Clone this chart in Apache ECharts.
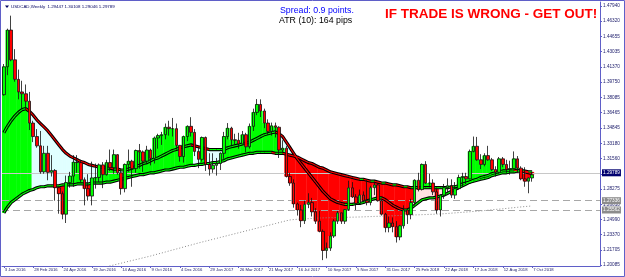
<!DOCTYPE html>
<html><head><meta charset="utf-8">
<script src="https://cdn.jsdelivr.net/npm/echarts@6/dist/echarts.min.js"></script>
<style>html,body{margin:0;padding:0;background:#fff}#c{width:625px;height:277px}</style>
</head><body><div id="c"></div>
<script>
// ---- data (weekly USDCAD) ----
const opens = [1.3840,1.4140,1.4535,1.4215,1.4005,1.3870,1.3850,1.3770,1.3535,1.3390,
1.3290,1.3010,1.3210,1.3005,1.3025,1.2840,1.2775,1.2555,1.2895,1.2965,
1.3115,1.3110,1.2925,1.2830,1.2750,1.2945,1.2950,1.3085,1.2980,1.3110,
1.3055,1.3195,1.3000,1.2830,1.3090,1.3125,1.3045,1.3240,1.3225,1.3125,
1.3245,1.3155,1.3375,1.3400,1.3410,1.3490,1.3475,1.3475,1.3295,1.3175,
1.3390,1.3500,1.3435,1.3230,1.3145,1.3380,1.3090,1.3040,1.3080,1.3100,
1.3210,1.3390,1.3480,1.3355,1.3350,1.3310,1.3410,1.3280,1.3500,1.3650,
1.3735,1.3665,1.3535,1.3445,1.3505,1.3490,1.3245,1.3265,1.2960,1.2890,
1.2665,1.2600,1.2485,1.2660,1.2680,1.2580,1.2480,1.2370,1.2165,1.2190,
1.2320,1.2480,1.2570,1.2480,1.2605,1.2838,1.2740,1.2670,1.2760,1.2700,
1.2680,1.2840,1.2870,1.2700,1.2555,1.2410,1.2460,1.2420,1.2310,1.2430,
1.2600,1.2550,1.2680,1.2920,1.2820,1.3090,1.2890,1.2890,1.2795,1.2600,
1.2760,1.2840,1.2860,1.2760,1.2830,1.2950,1.2960,1.2935,1.3230,1.3285,
1.3140,1.3090,1.3185,1.3140,1.3035,1.3005,1.3150,1.3090,1.3035,1.3045,
1.3150,1.3050,1.2935,1.2910,1.29447];
const closes = [1.4140,1.4535,1.4215,1.4005,1.3870,1.3850,1.3770,1.3535,1.3390,1.3290,
1.3010,1.3210,1.3005,1.3025,1.2840,1.2775,1.2555,1.2895,1.2965,1.3115,
1.3110,1.2925,1.2830,1.2750,1.2945,1.2950,1.3085,1.2980,1.3110,1.3055,
1.3195,1.3000,1.2830,1.3090,1.3125,1.3045,1.3240,1.3225,1.3125,1.3245,
1.3155,1.3375,1.3400,1.3410,1.3490,1.3475,1.3475,1.3295,1.3175,1.3390,
1.3500,1.3435,1.3230,1.3145,1.3380,1.3090,1.3040,1.3080,1.3100,1.3210,
1.3390,1.3480,1.3355,1.3350,1.3310,1.3410,1.3280,1.3500,1.3650,1.3735,
1.3665,1.3535,1.3445,1.3505,1.3490,1.3245,1.3265,1.2960,1.2890,1.2665,
1.2600,1.2485,1.2660,1.2680,1.2580,1.2480,1.2370,1.2165,1.2190,1.2320,
1.2480,1.2570,1.2480,1.2605,1.2838,1.2740,1.2670,1.2760,1.2700,1.2680,
1.2840,1.2870,1.2700,1.2555,1.2410,1.2460,1.2420,1.2310,1.2430,1.2600,
1.2550,1.2680,1.2920,1.2820,1.3090,1.2890,1.2890,1.2795,1.2600,1.2760,
1.2840,1.2860,1.2760,1.2830,1.2950,1.2960,1.2935,1.3230,1.3285,1.3140,
1.3090,1.3185,1.3140,1.3035,1.3005,1.3150,1.3090,1.3035,1.3045,1.3150,
1.3050,1.2935,1.2910,1.2945,1.29789];
const highs = [1.4170,1.4550,1.4690,1.4330,1.4110,1.3990,1.3950,1.3870,1.3560,1.3470,
1.3450,1.3290,1.3290,1.3190,1.3040,1.2850,1.2800,1.2970,1.3010,1.3190,
1.3190,1.3140,1.2950,1.2985,1.3120,1.3100,1.3100,1.3115,1.3140,1.3250,
1.3250,1.3200,1.3040,1.3100,1.3250,1.3140,1.3250,1.3310,1.3240,1.3290,
1.3260,1.3390,1.3420,1.3440,1.3530,1.3560,1.3590,1.3530,1.3300,1.3400,
1.3510,1.3598,1.3470,1.3280,1.3390,1.3390,1.3210,1.3210,1.3160,1.3220,
1.3440,1.3535,1.3495,1.3420,1.3430,1.3450,1.3430,1.3530,1.3690,1.3793,
1.3790,1.3690,1.3575,1.3540,1.3540,1.3500,1.3350,1.3290,1.3000,1.2930,
1.2680,1.2655,1.2700,1.2780,1.2730,1.2620,1.2590,1.2390,1.2250,1.2360,
1.2500,1.2590,1.2570,1.2610,1.2915,1.2900,1.2770,1.2820,1.2800,1.2920,
1.2860,1.2900,1.2890,1.2710,1.2570,1.2530,1.2520,1.2480,1.2440,1.2650,
1.2620,1.2720,1.2930,1.3000,1.3100,1.3125,1.2990,1.2930,1.2840,1.2770,
1.2880,1.2940,1.2930,1.2900,1.2980,1.3000,1.3000,1.3250,1.3390,1.3386,
1.3200,1.3210,1.3290,1.3160,1.3070,1.3170,1.3170,1.3140,1.3130,1.3230,
1.3180,1.3070,1.3060,1.2950,1.30108];
const lows = [1.3830,1.4050,1.4200,1.3980,1.3790,1.3695,1.3680,1.3460,1.3330,1.3270,
1.2990,1.2990,1.2920,1.2960,1.2700,1.2560,1.2500,1.2460,1.2840,1.2850,
1.3000,1.2900,1.2650,1.2700,1.2650,1.2830,1.2900,1.2835,1.2970,1.3020,
1.2990,1.2980,1.2765,1.2790,1.3010,1.2850,1.3000,1.3045,1.3010,1.3100,
1.3080,1.3100,1.3260,1.3300,1.3360,1.3400,1.3390,1.3250,1.3120,1.3110,
1.3340,1.3390,1.3180,1.3050,1.3120,1.3020,1.2970,1.3000,1.2970,1.3030,
1.3150,1.3360,1.3290,1.3300,1.3260,1.3310,1.3220,1.3260,1.3450,1.3620,
1.3600,1.3480,1.3410,1.3400,1.3380,1.3160,1.3220,1.2950,1.2860,1.2625,
1.2540,1.2415,1.2450,1.2620,1.2530,1.2450,1.2360,1.2061,1.2080,1.2160,
1.2300,1.2450,1.2450,1.2450,1.2590,1.2730,1.2600,1.2660,1.2690,1.2650,
1.2650,1.2760,1.2690,1.2540,1.2360,1.2360,1.2360,1.2250,1.2275,1.2400,
1.2450,1.2500,1.2650,1.2800,1.2810,1.2880,1.2860,1.2760,1.2560,1.2530,
1.2720,1.2790,1.2730,1.2720,1.2820,1.2850,1.2880,1.2930,1.3220,1.3130,
1.3040,1.3070,1.3130,1.3020,1.2960,1.2990,1.3060,1.3000,1.2980,1.3040,
1.3000,1.2920,1.2850,1.2780,1.29046];
const fastMA = [1.343,1.350,1.356,1.361,1.365,1.368,1.369,1.366,1.362,1.357,
1.353,1.349,1.345,1.340,1.335,1.330,1.325,1.321,1.318,1.316,
1.314,1.312,1.311,1.309,1.308,1.307,1.306,1.306,1.305,1.305,
1.304,1.304,1.303,1.303,1.304,1.305,1.307,1.308,1.310,1.311,
1.313,1.315,1.316,1.318,1.320,1.322,1.324,1.325,1.327,1.328,
1.329,1.330,1.329,1.328,1.327,1.326,1.325,1.325,1.325,1.325,
1.325,1.327,1.328,1.329,1.330,1.331,1.332,1.333,1.335,1.337,
1.339,1.341,1.342,1.343,1.344,1.342,1.339,1.333,1.327,1.321,
1.315,1.310,1.305,1.300,1.295,1.290,1.285,1.280,1.276,1.272,
1.270,1.268,1.267,1.266,1.266,1.266,1.267,1.267,1.268,1.270,
1.271,1.272,1.273,1.273,1.271,1.268,1.265,1.263,1.261,1.260,
1.260,1.262,1.265,1.268,1.271,1.272,1.273,1.273,1.274,1.275,
1.276,1.278,1.280,1.282,1.284,1.286,1.288,1.290,1.292,1.293,
1.295,1.296,1.297,1.299,1.300,1.301,1.302,1.302,1.303,1.303,
1.302,1.302,1.301,1.300,1.299];
const slowMA = [1.257,1.263,1.268,1.271,1.274,1.277,1.279,1.281,1.282,1.284,
1.285,1.285,1.286,1.286,1.286,1.286,1.287,1.287,1.287,1.287,
1.288,1.288,1.288,1.288,1.289,1.289,1.289,1.289,1.290,1.290,
1.291,1.292,1.293,1.294,1.295,1.296,1.297,1.298,1.298,1.299,
1.300,1.300,1.301,1.302,1.303,1.303,1.304,1.305,1.306,1.306,
1.307,1.308,1.308,1.309,1.309,1.310,1.310,1.311,1.311,1.312,
1.313,1.315,1.316,1.317,1.318,1.319,1.320,1.321,1.321,1.322,
1.322,1.322,1.322,1.322,1.321,1.321,1.321,1.320,1.319,1.318,
1.317,1.315,1.313,1.311,1.310,1.308,1.306,1.305,1.303,1.301,
1.300,1.299,1.298,1.297,1.296,1.295,1.294,1.293,1.293,1.292,
1.291,1.291,1.290,1.289,1.289,1.288,1.287,1.287,1.286,1.285,
1.285,1.284,1.284,1.284,1.284,1.284,1.284,1.284,1.284,1.284,
1.284,1.284,1.285,1.285,1.286,1.288,1.289,1.290,1.291,1.292,
1.293,1.294,1.295,1.297,1.298,1.299,1.300,1.300,1.301,1.301,
1.302,1.302,1.302,1.301,1.301];
// histogram state per bar: 1 = green fill, -1 = red fill, 0 = none
const histState = [1,1,1,1,1,1,1,1,0,0,
0,0,0,0,-1,-1,-1,1,1,1,
1,1,-1,-1,1,1,1,1,1,1,
1,1,-1,1,1,1,1,1,1,1,
1,1,1,1,1,1,1,1,1,1,
1,1,0,0,1,0,0,0,0,0,
1,1,1,1,1,1,1,1,1,1,
1,1,1,1,1,1,1,-1,-1,-1,
-1,-1,-1,-1,-1,-1,-1,-1,-1,-1,
-1,-1,-1,-1,-1,-1,-1,-1,-1,-1,
-1,-1,-1,-1,-1,-1,-1,-1,-1,-1,
-1,-1,1,-1,1,1,1,0,-1,0,
0,1,0,0,1,1,1,1,1,1,
1,1,1,1,1,1,1,1,1,1,
1,-1,-1,-1,-1];
const longMAStart = 28;
const longMAValues = [1.1990,1.2000,1.2009,1.2019,1.2028,1.2038,1.2048,1.2057,1.2067,1.2076,
1.2086,1.2095,1.2105,1.2116,1.2127,1.2137,1.2148,1.2159,1.2170,1.2180,
1.2191,1.2202,1.2213,1.2223,1.2234,1.2245,1.2255,1.2265,1.2275,1.2285,
1.2295,1.2305,1.2315,1.2325,1.2335,1.2345,1.2355,1.2365,1.2375,1.2385,
1.2395,1.2405,1.2415,1.2425,1.2434,1.2444,1.2454,1.2464,1.2474,1.2484,
1.2493,1.2497,1.2500,1.2503,1.2505,1.2507,1.2509,1.2512,1.2514,1.2515,
1.2516,1.2517,1.2518,1.2519,1.2520,1.2521,1.2522,1.2523,1.2524,1.2525,
1.2526,1.2528,1.2529,1.2531,1.2532,1.2534,1.2535,1.2537,1.2538,1.2540,
1.2541,1.2542,1.2544,1.2545,1.2547,1.2548,1.2550,1.2551,1.2553,1.2554,
1.2556,1.2557,1.2560,1.2563,1.2566,1.2569,1.2572,1.2575,1.2578,1.2581,
1.2584,1.2587,1.2590,1.2594,1.2598,1.2602,1.2606,1.2609,1.2613,1.2617,
1.2621,1.2625,1.2629,1.2633,1.2637,1.2640,1.2644];
const tickLabels = ['3 Jan 2016','28 Feb 2016','24 Apr 2016','19 Jun 2016','14 Aug 2016','9 Oct 2016','4 Dec 2016',
'29 Jan 2017','26 Mar 2017','21 May 2017','16 Jul 2017','10 Sep 2017','5 Nov 2017','31 Dec 2017',
'25 Feb 2018','22 Apr 2018','17 Jun 2018','12 Aug 2018','7 Oct 2018'];
const priceTicks = [1.47940,1.46320,1.44655,1.43035,1.41370,1.39750,1.38085,1.36465,1.34845,1.33180,
1.31560,1.29895,1.28275,1.26610,1.24990,1.23370,1.21705,1.20085];
const bidPrice = 1.29789;
const levelLines = [1.27336, 1.25562];
const headerText = 'USDCAD,Weekly  1.29447 1.30108 1.29046 1.29789';
const spreadText = 'Spread: 0.9 points.';
const atrText = 'ATR (10): 164 pips';
const warnText = 'IF TRADE IS WRONG - GET OUT!';

// ---- chart ----
const N = closes.length;
const SLOTS = 163;
const slots = Array.from({length: SLOTS}, (_, i) => String(i));
const idx = Array.from({length: N}, (_, i) => i);
const longMA = slots.map((_, i) => (i >= longMAStart && i - longMAStart < longMAValues.length) ? longMAValues[i - longMAStart] : null);
const axisColor = '#5F5FC8';
const labelColor = '#1C1C6A';
const FONT = 'Liberation Sans';
const showTick = (i) => i % 8 === 0 && i <= 144;

function renderBand(params, api) {
  const i = api.value(0);
  if (i === 0) return null;
  const f0 = fastMA[i-1], s0 = slowMA[i-1], f1 = fastMA[i], s1 = slowMA[i];
  const a = api.coord([i-1, f0]), b = api.coord([i, f1]), c = api.coord([i, s1]), d = api.coord([i-1, s0]);
  const col = (f0 + f1) >= (s0 + s1) ? '#E0FFFF' : '#FFE2E2';
  return {type: 'polygon', shape: {points: [a, b, c, d]}, style: {fill: col, stroke: col, lineWidth: 0.6}};
}
function renderHist(params, api) {
  const i = api.value(0);
  const st = histState[i];
  if (!st) return null;
  const col = st > 0 ? '#00FF00' : '#FF0000';
  const p1 = api.coord([i, slowMA[i]]), p2 = api.coord([i, closes[i]]);
  const w = api.size([1, 0])[0];
  return {type: 'rect', shape: {x: p1[0] - w/2 - 0.2, y: Math.min(p1[1], p2[1]), width: w + 0.4, height: Math.abs(p2[1] - p1[1])}, style: {fill: col}};
}
function coreRenderer(arr) {
  return function(params, api) {
    const i = api.value(0);
    if (i === 0) return null;
    const a = api.coord([i-1, arr[i-1]]), b = api.coord([i, arr[i]]);
    const col = arr[i] >= arr[i-1] ? '#00FF00' : '#FF0000';
    return {type: 'line', shape: {x1: a[0], y1: a[1], x2: b[0], y2: b[1]}, style: {stroke: col, lineWidth: 1.1}};
  };
}
const lvlLabel = (txt, bg) => ({show: true, position: 'end', formatter: txt, color: '#fff', backgroundColor: bg,
  fontSize: 4.7, fontFamily: FONT, padding: [1, 1], distance: 2});

const chart = echarts.init(document.getElementById('c'), null, {renderer: 'canvas'});
chart.setOption({
  animation: false,
  backgroundColor: '#fff',
  grid: {left: 2, right: 25, top: 2, bottom: 11, containLabel: false},
  xAxis: {
    type: 'category', data: slots, boundaryGap: true,
    axisLine: {show: true, lineStyle: {color: axisColor, width: 1}},
    axisTick: {show: true, interval: showTick, alignWithLabel: true, length: 2, lineStyle: {color: axisColor}},
    axisLabel: {interval: showTick, formatter: (v, i) => tickLabels[i / 8], align: 'left', fontSize: 4.2,
      fontFamily: FONT, color: labelColor, margin: 2, padding: [0, 0, 0, 1]},
    splitLine: {show: false}
  },
  yAxis: {
    type: 'value', position: 'right', min: 1.19977, max: 1.48370, scale: true,
    axisLine: {show: true, lineStyle: {color: axisColor, width: 1}},
    axisTick: {show: true, customValues: priceTicks, length: 2, lineStyle: {color: axisColor}},
    axisLabel: {customValues: priceTicks, formatter: (v) => Number(v).toFixed(5), fontSize: 4.7,
      fontFamily: FONT, color: labelColor, margin: 3},
    splitLine: {show: false}
  },
  series: [
    {type: 'line', data: [], z: 1, silent: true,
     markLine: {symbol: ['none', 'none'], silent: true, animation: false,
      data: [
        {yAxis: bidPrice, lineStyle: {color: '#C8C8C8', type: 'solid', width: 1}, label: lvlLabel(bidPrice.toFixed(5), '#000070')},
        {yAxis: levelLines[0], lineStyle: {color: '#A8A8A8', type: [7, 4], width: 1}, label: lvlLabel(levelLines[0].toFixed(5), '#8C8C8C')},
        {yAxis: levelLines[1], lineStyle: {color: '#A8A8A8', type: [7, 4], width: 1}, label: lvlLabel(levelLines[1].toFixed(5), '#8C8C8C')}
      ]}},
    {type: 'custom', z: 2, silent: true, clip: true, renderItem: renderBand, data: idx.map(i => [i, fastMA[i]]), encode: {x: 0, y: 1}},
    {type: 'custom', z: 3, silent: true, clip: true, renderItem: renderHist, data: idx.map(i => [i, closes[i]]), encode: {x: 0, y: 1}},
    {type: 'line', z: 4, silent: true, data: longMA, symbol: 'none', lineStyle: {color: '#8A8A8A', width: 1, type: [1, 2]}},
    {type: 'line', z: 5, silent: true, data: slowMA, symbol: 'none', lineStyle: {color: '#000', width: 3.2}},
    {type: 'custom', z: 6, silent: true, clip: true, renderItem: coreRenderer(slowMA), data: idx.map(i => [i, slowMA[i]]), encode: {x: 0, y: 1}},
    {type: 'line', z: 5, silent: true, data: fastMA, symbol: 'none', lineStyle: {color: '#000', width: 3.2}},
    {type: 'custom', z: 6, silent: true, clip: true, renderItem: coreRenderer(fastMA), data: idx.map(i => [i, fastMA[i]]), encode: {x: 0, y: 1}},
    {type: 'candlestick', z: 8, silent: true, barWidth: 3,
     data: idx.map(i => [opens[i], closes[i], lows[i], highs[i]]),
     itemStyle: {color: '#00FF00', color0: '#FF0000', borderColor: '#111', borderColor0: '#111', borderWidth: 0.8}}
  ],
  graphic: [
    {type: 'rect', z: 100, silent: true, shape: {x: 0.5, y: 0.5, width: 624, height: 276}, style: {fill: 'none', stroke: axisColor, lineWidth: 1}},
    {type: 'polygon', z: 100, silent: true, shape: {points: [[5, 5.5], [9, 5.5], [7, 8]]}, style: {fill: '#000060'}},
    {type: 'text', z: 100, silent: true, x: 11, y: 7, style: {text: headerText, fontSize: 4.4, fontFamily: FONT, fill: '#000060', verticalAlign: 'middle'}},
    {type: 'text', z: 100, silent: true, x: 280, y: 11, style: {text: spreadText, fontSize: 8.8, fontFamily: FONT, fill: '#0000FF', verticalAlign: 'middle'}},
    {type: 'text', z: 100, silent: true, x: 279, y: 20.7, style: {text: atrText, fontSize: 8.8, fontFamily: FONT, fill: '#000', verticalAlign: 'middle'}},
    {type: 'text', z: 100, silent: true, x: 385, y: 14.5, style: {text: warnText, fontSize: 13.5, fontWeight: 'bold', fontFamily: FONT, fill: '#FF0000', verticalAlign: 'middle'}}
  ]
});
</script>
</body></html>
